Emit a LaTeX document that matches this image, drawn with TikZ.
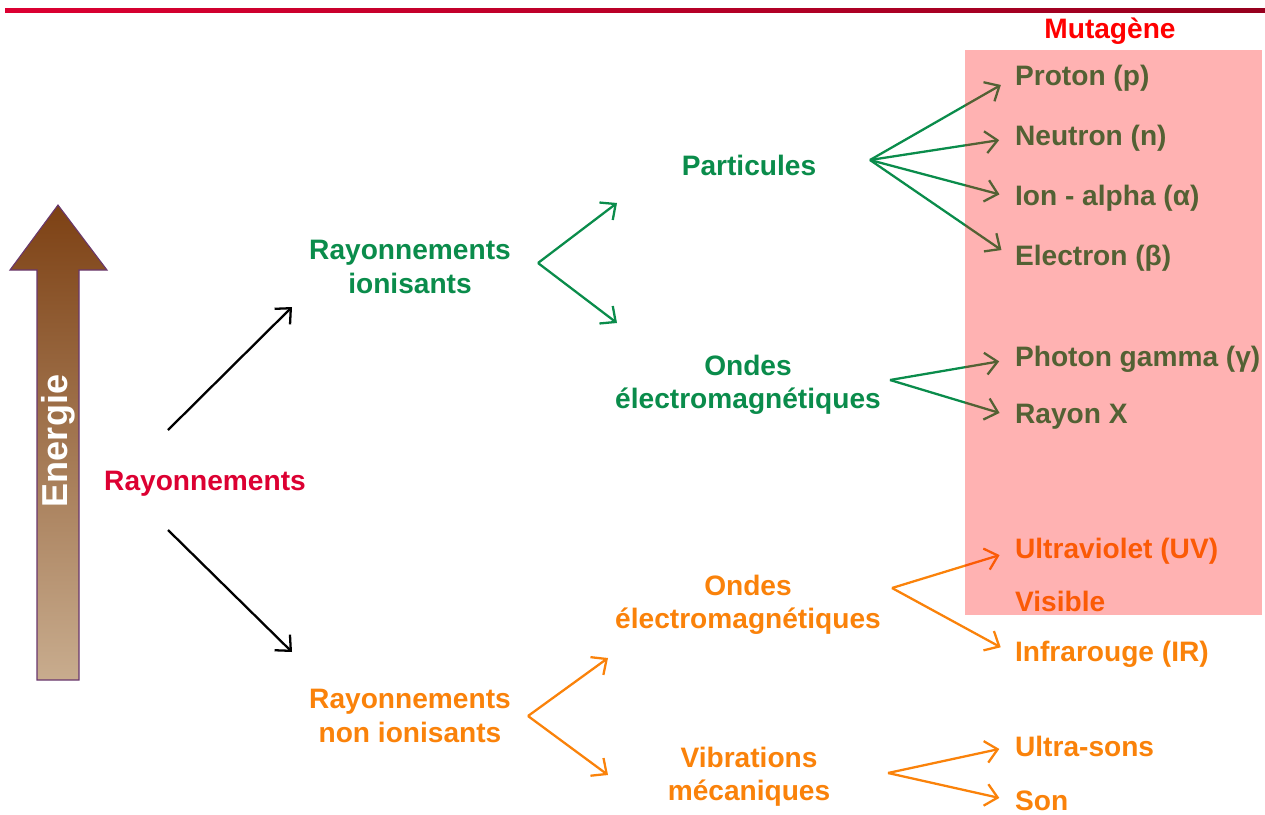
\documentclass[tikz,border=0pt]{standalone}
\usepackage{fontspec}
\setmainfont{Liberation Sans}
\usetikzlibrary{arrows.meta,positioning,calc}

\definecolor{rayRed}{RGB}{220,0,50}
\definecolor{lineDark}{RGB}{150,0,30}
\definecolor{ionGreen}{RGB}{10,140,75}
\definecolor{nonOrange}{RGB}{250,130,10}
\definecolor{enerTop}{RGB}{125,65,20}
\definecolor{enerBot}{RGB}{200,172,142}
\definecolor{enerEdge}{RGB}{105,55,110}

\tikzset{
  txt/.style={font=\bfseries\fontsize{16}{19}\selectfont,align=center,inner sep=2pt},
  leaf/.style={txt,inner sep=1pt},
  arr/.style={-{Straight Barb[length=2.4mm,width=4.4mm]},line width=1.3pt},
}

\begin{document}
\begin{tikzpicture}[x=0.02cm,y=-0.02cm]
\useasboundingbox (0,0) rectangle (1265,815);

% Top rule
\shade[left color=rayRed,right color=lineDark] (5,8) rectangle (1265,12);

% Energy arrow
\shade[top color=enerTop,bottom color=enerBot,draw=enerEdge,line width=0.6pt]
  (37,680) -- (37,270) -- (10,270) -- (58,205) -- (107,270) -- (79,270) -- (79,680) -- cycle;
\node[rotate=90,text=white,font=\bfseries\fontsize{20.5}{24}\selectfont] (energie) at (58,441) {Energie};

% Main nodes
\node[txt,text=rayRed] (ray) at (205,484) {Rayonnements};
\node[txt,text=ionGreen] (ion) at (410,267) {Rayonnements\\ionisants};
\node[txt,text=ionGreen] (part) at (749,165) {Particules};
\node[txt,text=ionGreen] (ondesI) at (748,385) {Ondes\\électromagnétiques};
\node[txt,text=nonOrange] (nonion) at (410,716) {Rayonnements\\non ionisants};
\node[txt,text=nonOrange] (ondesN) at (748,605) {Ondes\\électromagnétiques};
\node[txt,text=nonOrange] (vib) at (749,777) {Vibrations\\mécaniques};
\node[txt,text=red] (muta) at (1110,31) {Mutagène};

% Leaves
\node[leaf,text=ionGreen,anchor=west] (proton) at (1013,78) {Proton (p)};
\node[leaf,text=ionGreen,below=1.2cm of proton.west,anchor=west] (neutron) {Neutron (n)};
\node[leaf,text=ionGreen,below=1.2cm of neutron.west,anchor=west] (alpha) {Ion - alpha (α)};
\node[leaf,text=ionGreen,below=1.2cm of alpha.west,anchor=west] (electron) {Electron (β)};
\node[leaf,text=ionGreen,anchor=west] (photon) at (1013,359) {Photon gamma (γ)};
\node[leaf,text=ionGreen,below=1.16cm of photon.west,anchor=west] (rayonX) {Rayon X};
\node[leaf,text=nonOrange,anchor=west] (uv) at (1013,551) {Ultraviolet (UV)};
\node[leaf,text=nonOrange,below=1cm of uv.west,anchor=west] (visible) {Visible};
\node[leaf,text=nonOrange,below=1.06cm of visible.west,anchor=west] (ir) {Infrarouge (IR)};
\node[leaf,text=nonOrange,anchor=west] (ultrasons) at (1013,746) {Ultra-sons};
\node[leaf,text=nonOrange,below=1.1cm of ultrasons.west,anchor=west] (son) {Son};

% Forks
\coordinate (rayUp) at (168,430);
\coordinate (rayDown) at (168,530);
\coordinate (rayUpTip) at (292,307);
\coordinate (rayDownTip) at (292,652);
\coordinate (ionFork) at (538,263);
\coordinate (ionUp) at (617,203);
\coordinate (ionDown) at (617,323);
\coordinate (nonFork) at (528,716);
\coordinate (nonUp) at (608,658);
\coordinate (nonDown) at (608,775);
\coordinate (partFork) at (870,160);
\coordinate (ondesIFork) at (890,380);
\coordinate (ondesNFork) at (892,588);
\coordinate (vibFork) at (888,773);

% Arcs
\draw[arr] (rayUp) -- (rayUpTip);
\draw[arr] (rayDown) -- (rayDownTip);
\draw[arr,ionGreen] (ionFork) -- (ionUp);
\draw[arr,ionGreen] (ionFork) -- (ionDown);
\draw[arr,nonOrange] (nonFork) -- (nonUp);
\draw[arr,nonOrange] (nonFork) -- (nonDown);
\foreach \leafname in {proton,neutron,alpha,electron}
  \draw[arr,ionGreen,shorten >=0.28cm] (partFork) -- (\leafname.west);
\foreach \leafname in {photon,rayonX}
  \draw[arr,ionGreen,shorten >=0.28cm] (ondesIFork) -- (\leafname.west);
\foreach \leafname in {uv,ir}
  \draw[arr,nonOrange,shorten >=0.28cm] (ondesNFork) -- (\leafname.west);
\foreach \leafname in {ultrasons,son}
  \draw[arr,nonOrange,shorten >=0.28cm] (vibFork) -- (\leafname.west);

% Mutagenic zone
\fill[red,opacity=0.3] (965,50) rectangle (1262,615);
\end{tikzpicture}
\end{document}
